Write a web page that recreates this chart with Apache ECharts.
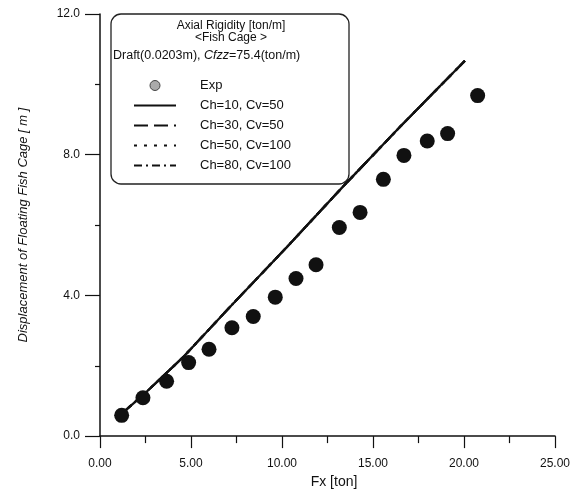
<!DOCTYPE html>
<html>
<head>
<meta charset="utf-8">
<script src="https://cdn.jsdelivr.net/npm/echarts@6/dist/echarts.min.js"></script>
<style>
  html, body { margin: 0; padding: 0; background: #fff; }
  #chart { width: 582px; height: 494px; }
</style>
</head>
<body>
<div id="chart"></div>
<script>
// experiment
const expFx = [1.19, 2.36, 3.66, 4.87, 5.99, 7.25, 8.42, 9.63, 10.77, 11.87, 13.15, 14.29, 15.57, 16.70, 17.98, 19.10, 20.75]
const expDisp = [0.59, 1.09, 1.56, 2.09, 2.47, 3.08, 3.40, 3.95, 4.48, 4.87, 5.93, 6.36, 7.30, 7.98, 8.39, 8.60, 9.68]

// simulations (all four curves lie on top of each other)
const modelFx = [1.15, 2.56, 4.58, 7.10, 10.26, 13.40, 16.50, 20.05]
const ch10Cv50 = [0.62, 1.26, 2.25, 3.65, 5.37, 7.12, 8.80, 10.67]
const ch30Cv50 = [0.62, 1.26, 2.25, 3.65, 5.37, 7.12, 8.80, 10.67]
const ch50Cv100 = [0.62, 1.26, 2.25, 3.65, 5.37, 7.12, 8.80, 10.67]
const ch80Cv100 = [0.62, 1.26, 2.25, 3.65, 5.37, 7.12, 8.80, 10.67]

const xTicks = ['0.00', '5.00', '10.00', '15.00', '20.00', '25.00']
const yTicks = ['0.0', '4.0', '8.0', '12.0']

const font = "'Liberation Sans', Arial, sans-serif"
const ink = '#111'

const pairs = (xs, ys) => xs.map((x, i) => [x, ys[i]])

const chart = echarts.init(document.getElementById('chart'))

function lineSeries(name, ys, type) {
  return {
    name,
    type: 'line',
    data: pairs(modelFx, ys),
    symbol: 'none',
    itemStyle: { color: ink },
    lineStyle: { color: ink, width: 2.3, type },
    z: 2
  }
}

function lineLegend(name) {
  return { name, itemStyle: { opacity: 0 } }
}

const axisCommon = {
  axisLine: { lineStyle: { color: ink, width: 1.5 } },
  splitLine: { show: false },
  minorSplitLine: { show: false },
  axisLabel: { color: ink, fontSize: 12, fontFamily: font }
}

let option = {
  animation: false,
  backgroundColor: '#fff',
  grid: { left: 100, right: 27, top: 14, bottom: 56 },
  xAxis: {
    ...axisCommon,
    type: 'value',
    min: 0, max: 25, interval: 5,
    axisTick: { length: 12, lineStyle: { color: ink, width: 1.2 } },
    minorTick: { show: true, splitNumber: 2, length: 7, lineStyle: { color: ink, width: 1.2 } },
    axisLabel: { ...axisCommon.axisLabel, margin: 22, formatter: v => xTicks[Math.round(v / 5)] },
    name: 'Fx [ton]',
    nameLocation: 'middle',
    nameGap: 32,
    nameTextStyle: { color: ink, fontSize: 14, fontFamily: font, padding: [0, 0, 0, 13] }
  },
  yAxis: {
    ...axisCommon,
    type: 'value',
    min: 0, max: 12, interval: 4,
    axisTick: { length: 15, lineStyle: { color: ink, width: 1.2 } },
    minorTick: { show: true, splitNumber: 2, length: 5, lineStyle: { color: ink, width: 1.2 } },
    axisLabel: { ...axisCommon.axisLabel, margin: 20, formatter: v => yTicks[Math.round(v / 4)] },
    name: 'Displacement of Floating Fish Cage [ m ]',
    nameLocation: 'middle',
    nameGap: 70,
    nameTextStyle: { color: ink, fontSize: 13, fontStyle: 'italic', fontFamily: font }
  },
  legend: {
    orient: 'vertical',
    left: 128,
    top: 74,
    itemWidth: 42,
    itemHeight: 10,
    itemGap: 7,
    selectedMode: false,
    textStyle: { color: ink, fontSize: 13, fontFamily: font, padding: [0, 0, 0, 19] },
    data: [
      { name: 'Exp', icon: 'circle', itemStyle: { color: '#aaa', borderColor: '#444', borderWidth: 1, opacity: 1 } },
      lineLegend('Ch=10, Cv=50'),
      lineLegend('Ch=30, Cv=50'),
      lineLegend('Ch=50, Cv=100'),
      lineLegend('Ch=80, Cv=100')
    ],
    z: 20
  },
  graphic: [
    {
      type: 'rect',
      shape: { x: 111, y: 14, width: 238, height: 170, r: 10 },
      style: { fill: '#fff', stroke: '#222', lineWidth: 1.3 },
      z: 10
    },
    {
      type: 'text',
      x: 231, y: 26,
      style: { text: 'Axial Rigidity [ton/m]', fill: ink, font: '12px ' + font, align: 'center', verticalAlign: 'middle' },
      z: 11
    },
    {
      type: 'text',
      x: 231, y: 38,
      style: { text: '<Fish Cage >', fill: ink, font: '12px ' + font, align: 'center', verticalAlign: 'middle' },
      z: 11
    },
    {
      type: 'text',
      x: 113, y: 56,
      style: {
        text: '{n|Draft(0.0203m), }{i|Cfzz}{n|=75.4(ton/m)}',
        rich: {
          n: { fill: ink, fontSize: 12.5, fontFamily: font },
          i: { fill: ink, fontSize: 12.5, fontFamily: font, fontStyle: 'italic' }
        },
        align: 'left', verticalAlign: 'middle'
      },
      z: 11
    }
  ],
  series: [
    {
      name: 'Exp',
      type: 'scatter',
      data: pairs(expFx, expDisp),
      symbol: 'circle',
      symbolSize: 15,
      itemStyle: { color: ink, opacity: 1 },
      z: 3
    },
    lineSeries('Ch=10, Cv=50', ch10Cv50, 'solid'),
    lineSeries('Ch=30, Cv=50', ch30Cv50, [14, 6]),
    lineSeries('Ch=50, Cv=100', ch50Cv100, [3, 7]),
    lineSeries('Ch=80, Cv=100', ch80Cv100, [8, 4, 2, 4])
  ]
}

chart.setOption(option)
</script>
</body>
</html>
